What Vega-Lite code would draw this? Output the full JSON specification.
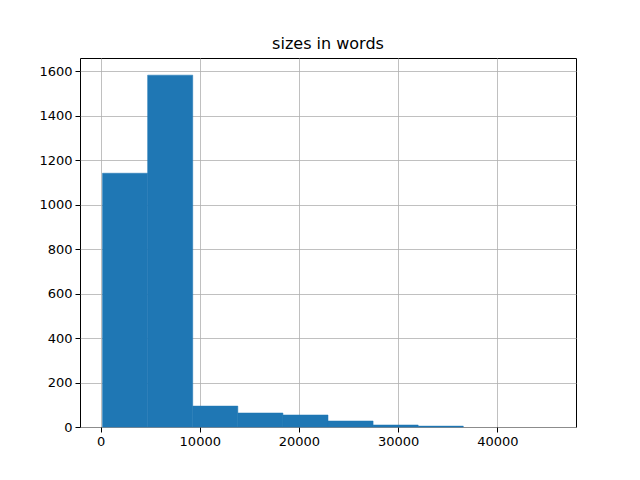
{
  "$schema": "https://vega.github.io/schema/vega-lite/v6.json",
  "autosize": {"type": "none"},
  "width": 496,
  "height": 369,
  "padding": {"left": 80, "top": 58, "right": 64, "bottom": 53},
  "background": "white",
  "title": {"text": "sizes in words", "font": "DejaVu Sans", "fontSize": 16, "fontWeight": "normal", "color": "black", "offset": 6},
  "config": {
    "view": {"stroke": "black", "strokeWidth": 1},
    "axis": {
      "labelFont": "DejaVu Sans", "labelFontSize": 13, "labelColor": "black",
      "gridColor": "#b0b0b0", "gridWidth": 0.8, "gridOpacity": 1,
      "tickColor": "black", "tickSize": 5, "domain": false, "titleFont": "DejaVu Sans",
      "zindex": 1
    }
  },
  "data": {"values": [
    {"start": 200, "end": 4746, "count": 1141},
    {"start": 4746, "end": 9291, "count": 1582},
    {"start": 9291, "end": 13837, "count": 94},
    {"start": 13837, "end": 18383, "count": 63},
    {"start": 18383, "end": 22929, "count": 54},
    {"start": 22929, "end": 27474, "count": 27},
    {"start": 27474, "end": 32020, "count": 9},
    {"start": 32020, "end": 36566, "count": 4},
    {"start": 36566, "end": 41111, "count": 0},
    {"start": 41111, "end": 45657, "count": 0}
  ]},
  "mark": {"type": "rect", "color": "#1f77b4", "stroke": "#1f77b4", "strokeWidth": 0.5},
  "encoding": {
    "x": {"field": "start", "type": "quantitative", "title": null,
      "scale": {"domain": [-2073, 47930], "nice": false, "zero": false},
      "axis": {"values": [0, 10000, 20000, 30000, 40000], "format": "d", "labelPadding": 3}},
    "x2": {"field": "end"},
    "y": {"field": "count", "type": "quantitative", "title": null,
      "scale": {"domain": [0, 1659], "nice": false},
      "axis": {"values": [0, 200, 400, 600, 800, 1000, 1200, 1400, 1600], "format": "d", "labelPadding": 3}},
    "y2": {"datum": 0},
    "strokeOpacity": {"condition": {"test": "datum.count > 0", "value": 1}, "value": 0}
  }
}
